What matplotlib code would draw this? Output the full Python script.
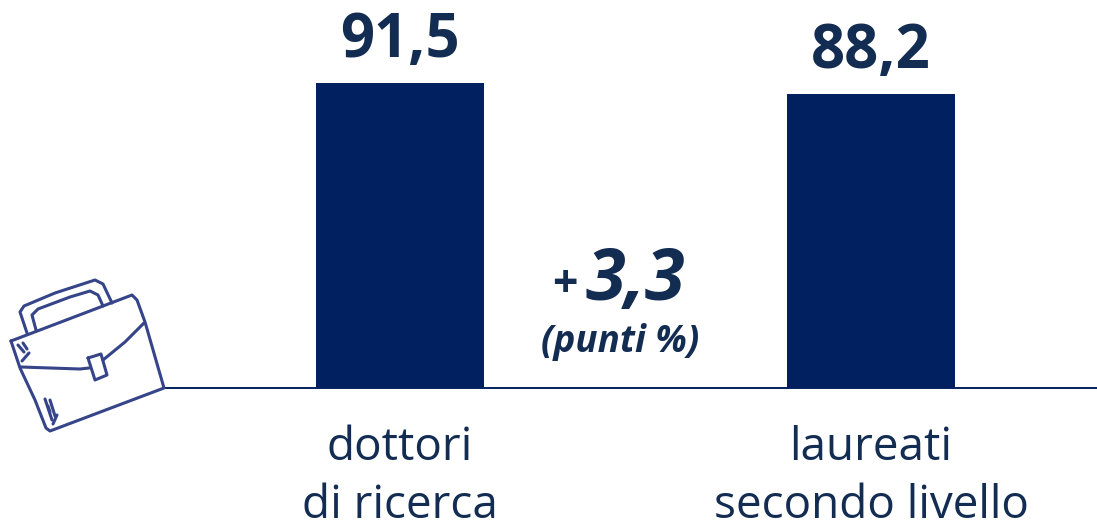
import matplotlib
matplotlib.use("Agg")
import matplotlib.pyplot as plt
from matplotlib.lines import Line2D
from matplotlib.transforms import Affine2D

categories = ["dottori\ndi ricerca", "laureati\nsecondo livello"]
values = [91.5, 88.2]
value_labels = ["91,5", "88,2"]
delta_label = "3,3"
delta_unit = "(punti %)"

NAVY = "#002060"
TEXT = "#132C52"
ICON = "#36448A"
W, H = 1097, 524
plt.rcParams["font.family"] = ["Open Sans", "DejaVu Sans"]

fig = plt.figure(figsize=(W / 100, H / 100), dpi=100, facecolor="white")
ax = fig.add_axes([165 / W, (H - 388) / H, 932 / W, 388 / H])
positions = list(range(len(categories)))
ax.bar(positions, values, width=168 / 471, color=NAVY)
ax.set_xlim(-235 / 471, 1 + 226 / 471)
ax.set_ylim(0, 388 / (305 / 91.5))
for s in ("top", "left", "right"):
    ax.spines[s].set_visible(False)
ax.spines["bottom"].set_color(NAVY)
ax.spines["bottom"].set_linewidth(1.4)
ax.set_yticks([])
ax.set_xticks(positions)
ax.set_xticklabels(categories, fontsize=33, color=TEXT, linespacing=1.32)
ax.tick_params(axis="x", length=0, pad=27)
for p, v, lab in zip(positions, values, value_labels):
    ax.annotate(lab, (p, v), xytext=(0, 8), textcoords="offset points", ha="center",
                va="bottom", fontsize=43, fontweight="bold", color=TEXT)

px = Affine2D().scale(1, -1).translate(0, H)  # reference pixel coordinates
fig.text(552 / W, 1 - 297 / H, "+", fontsize=32, fontweight="bold", color=TEXT, ha="left", va="baseline")
fig.text(586 / W, 1 - 300 / H, delta_label, fontsize=52, fontweight="bold", style="italic",
         color=TEXT, ha="left", va="baseline")
fig.text(620 / W, 1 - 352 / H, delta_unit, fontsize=26.5, fontweight="bold", style="italic",
         color=TEXT, ha="center", va="baseline")

# Hand-drawn briefcase icon (decoration, in reference pixels)
icon_paths = [
    [(11, 341), (132, 295), (137, 300), (145, 322), (164, 388), (50, 431), (46, 428), (35, 400), (20, 368), (11, 341)],
    [(21, 367), (50, 368), (80, 369), (89, 368)],
    [(103, 360), (125, 342), (144, 323)],
    [(88, 358), (101, 354), (107, 375), (95, 380), (88, 358)],
    [(27, 333), (20, 312), (24, 306), (55, 293), (95, 280), (103, 284), (112, 303)],
    [(36, 330), (32, 315), (38, 309), (70, 297), (90, 291), (98, 295), (103, 306)],
    [(18, 345), (24, 352)], [(23, 343), (27, 349)], [(22, 361), (29, 353)],
    [(45, 399), (52, 420)], [(50, 400), (55, 416)], [(57, 415), (53, 424)], [(48, 406), (50, 412)],
]
for path in icon_paths:
    xs, ys = zip(*path)
    fig.add_artist(Line2D(xs, ys, transform=px, color=ICON, lw=2.2,
                          solid_capstyle="round", solid_joinstyle="round"))

fig.savefig("out.png", dpi=100)
